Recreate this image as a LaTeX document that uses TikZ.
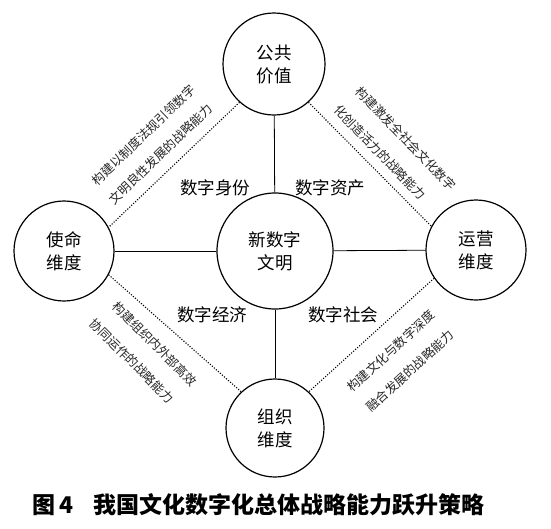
\documentclass[tikz,border=0pt]{standalone}
\usepackage{fontspec}
\setmainfont{Noto Sans CJK SC}
\begin{document}
\begin{tikzpicture}[x=1pt,y=-1pt,
  dim/.style={circle,draw,line width=1.2pt,inner sep=0pt,minimum size=100pt,align=center,font=\fontsize{17.5}{23}\selectfont},
  quad/.style={font=\fontsize{17.5}{20}\selectfont},
  diag/.style={font=\fontsize{12.5}{14}\selectfont,text=black!85,inner sep=0pt},
  link/.style={line width=0.8pt},
  dotlink/.style={line width=1.1pt,dash pattern=on 1.1pt off 1.6pt}]
\useasboundingbox (0,0) rectangle (551,528);
\node[dim,minimum size=116pt] (c) at (275,251) {新数字\\文明};
\node[dim,minimum size=102pt] (t) at (274,64) {公共\\价值};
\node[dim] (l) at (64,251) {使命\\维度};
\node[dim] (r) at (476,250) {运营\\维度};
\node[dim,minimum size=98pt] (b) at (275,428) {组织\\维度};
\draw[link] (c) -- (t);
\draw[link] (c) -- (l);
\draw[link] (c) -- (r);
\draw[link] (c) -- (b);
\draw[dotlink] (t.228) -- (l.28);
\draw[dotlink] (t.312) -- (r.152);
\draw[dotlink] (l.-28) -- (b.133);
\draw[dotlink] (r.-146) -- (b.47);
\node[quad] (q1) at (215,188) {数字身份};
\node[quad] (q2) at (330,188) {数字资产};
\node[quad] (q3) at (212,315) {数字经济};
\node[quad] (q4) at (343,315) {数字社会};
\node[diag,rotate=44] (d1a) at (143.5,135) {构建以制度法规引领数字};
\node[diag,rotate=44] (d1b) at (161,154) {文明良性发展的战略能力};
\node[diag,rotate=-46] (d2a) at (406,139) {构建激发全社会文化数字};
\node[diag,rotate=-46] (d2b) at (380,152.5) {化创造活力的战略能力};
\node[diag,rotate=-45] (d3a) at (155,344) {构建组织内外部高效};
\node[diag,rotate=-45] (d3b) at (132,361) {协同运作的战略能力};
\node[diag,rotate=42.5] (d4a) at (391,351) {构建文化与数字深度};
\node[diag,rotate=42.5] (d4b) at (410,371) {融合发展的战略能力};
\node[font=\fontsize{23}{25}\selectfont\bfseries] (cap) at (258.5,505) {图\,4\hspace{0.9em}我国文化数字化总体战略能力跃升策略};
\end{tikzpicture}
\end{document}
